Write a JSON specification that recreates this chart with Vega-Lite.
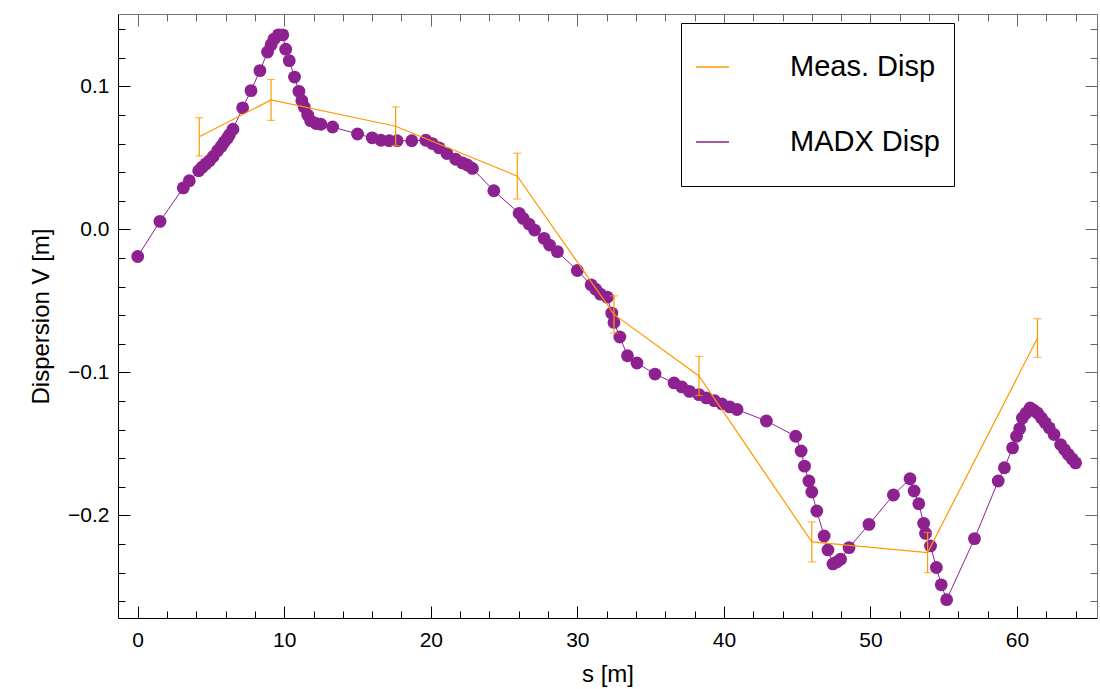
{
  "$schema": "https://vega.github.io/schema/vega-lite/v6.json",
  "autosize": {"type": "none"},
  "padding": {"left": 118, "top": 14, "right": 3, "bottom": 71},
  "width": 979,
  "height": 604,
  "background": "white",
  "config": {
    "view": {"stroke": null},
    "font": "Liberation Sans",
    "axis": {"labelFont": "Liberation Sans", "titleFont": "Liberation Sans", "labelColor": "black", "titleColor": "black", "grid": false, "titleFontWeight": "normal", "labelFontSize": 21, "titleFontSize": 24}
  },
  "datasets": {
    "madx": [
      {"s": 0.0, "v": -0.019}, {"s": 1.52, "v": 0.0056}, {"s": 3.11, "v": 0.029}, {"s": 3.52, "v": 0.034},
      {"s": 4.16, "v": 0.041}, {"s": 4.4, "v": 0.0435}, {"s": 4.65, "v": 0.0458}, {"s": 4.9, "v": 0.048},
      {"s": 5.15, "v": 0.051}, {"s": 5.45, "v": 0.055}, {"s": 5.7, "v": 0.058}, {"s": 5.9, "v": 0.061},
      {"s": 6.1, "v": 0.0635}, {"s": 6.25, "v": 0.066}, {"s": 6.5, "v": 0.070}, {"s": 7.16, "v": 0.085},
      {"s": 7.73, "v": 0.097}, {"s": 8.34, "v": 0.111}, {"s": 8.86, "v": 0.124}, {"s": 9.1, "v": 0.129},
      {"s": 9.3, "v": 0.133}, {"s": 9.6, "v": 0.136}, {"s": 9.9, "v": 0.136}, {"s": 10.1, "v": 0.126},
      {"s": 10.34, "v": 0.118}, {"s": 10.7, "v": 0.1065}, {"s": 11.0, "v": 0.0965}, {"s": 11.2, "v": 0.090},
      {"s": 11.36, "v": 0.0856}, {"s": 11.6, "v": 0.080}, {"s": 11.8, "v": 0.076}, {"s": 12.16, "v": 0.074},
      {"s": 12.5, "v": 0.0735}, {"s": 13.3, "v": 0.0716}, {"s": 15.0, "v": 0.0667}, {"s": 16.0, "v": 0.064},
      {"s": 16.6, "v": 0.0623}, {"s": 17.16, "v": 0.062}, {"s": 17.7, "v": 0.062}, {"s": 18.7, "v": 0.062},
      {"s": 19.66, "v": 0.0623}, {"s": 20.1, "v": 0.060}, {"s": 20.57, "v": 0.057}, {"s": 21.1, "v": 0.053},
      {"s": 21.7, "v": 0.049}, {"s": 22.16, "v": 0.0465}, {"s": 22.5, "v": 0.045}, {"s": 22.84, "v": 0.0426},
      {"s": 24.3, "v": 0.027}, {"s": 26.03, "v": 0.0112}, {"s": 26.3, "v": 0.0077}, {"s": 26.7, "v": 0.0037},
      {"s": 27.08, "v": -0.0005}, {"s": 27.73, "v": -0.0063}, {"s": 28.1, "v": -0.011}, {"s": 28.64, "v": -0.0156},
      {"s": 30.0, "v": -0.0288}, {"s": 30.94, "v": -0.0388}, {"s": 31.25, "v": -0.0419}, {"s": 31.57, "v": -0.0453},
      {"s": 32.04, "v": -0.0474}, {"s": 32.35, "v": -0.0586}, {"s": 32.5, "v": -0.0651}, {"s": 32.9, "v": -0.0753},
      {"s": 33.42, "v": -0.0884}, {"s": 34.07, "v": -0.0935}, {"s": 35.3, "v": -0.1012}, {"s": 36.6, "v": -0.1074},
      {"s": 37.13, "v": -0.1102}, {"s": 37.65, "v": -0.1133}, {"s": 38.3, "v": -0.1156}, {"s": 38.8, "v": -0.1179},
      {"s": 39.35, "v": -0.1198}, {"s": 39.87, "v": -0.1221}, {"s": 40.4, "v": -0.1242}, {"s": 40.9, "v": -0.126},
      {"s": 42.9, "v": -0.134}, {"s": 44.9, "v": -0.1447}, {"s": 45.27, "v": -0.155}, {"s": 45.5, "v": -0.1656},
      {"s": 45.8, "v": -0.176}, {"s": 46.0, "v": -0.1837}, {"s": 46.34, "v": -0.197}, {"s": 46.84, "v": -0.2144},
      {"s": 47.1, "v": -0.2242}, {"s": 47.44, "v": -0.234}, {"s": 47.7, "v": -0.2326}, {"s": 47.96, "v": -0.2307},
      {"s": 48.54, "v": -0.2226}, {"s": 49.9, "v": -0.2063}, {"s": 51.57, "v": -0.1858}, {"s": 52.7, "v": -0.1744},
      {"s": 52.98, "v": -0.183}, {"s": 53.3, "v": -0.1919}, {"s": 53.63, "v": -0.2056}, {"s": 53.76, "v": -0.2126},
      {"s": 54.1, "v": -0.2214}, {"s": 54.5, "v": -0.2365}, {"s": 54.83, "v": -0.2486}, {"s": 55.2, "v": -0.259},
      {"s": 57.1, "v": -0.2163}, {"s": 58.72, "v": -0.176}, {"s": 59.14, "v": -0.1667}, {"s": 59.7, "v": -0.1528},
      {"s": 59.97, "v": -0.1447}, {"s": 60.18, "v": -0.1395}, {"s": 60.37, "v": -0.1319}, {"s": 60.63, "v": -0.1284},
      {"s": 60.9, "v": -0.1249}, {"s": 61.14, "v": -0.1265}, {"s": 61.4, "v": -0.1284}, {"s": 61.67, "v": -0.1319},
      {"s": 61.93, "v": -0.1353}, {"s": 62.2, "v": -0.1388}, {"s": 62.53, "v": -0.1435}, {"s": 62.98, "v": -0.1505},
      {"s": 63.24, "v": -0.154}, {"s": 63.5, "v": -0.1574}, {"s": 63.76, "v": -0.1605}, {"s": 64.0, "v": -0.1633}
    ],
    "meas": [
      {"s": 4.2, "v": 0.0647, "err": 0.0134},
      {"s": 9.1, "v": 0.0905, "err": 0.0143},
      {"s": 17.6, "v": 0.0721, "err": 0.0135},
      {"s": 25.9, "v": 0.0372, "err": 0.016},
      {"s": 32.5, "v": -0.0595, "err": 0.013},
      {"s": 38.3, "v": -0.1025, "err": 0.0137},
      {"s": 46.0, "v": -0.2186, "err": 0.014},
      {"s": 53.9, "v": -0.226, "err": 0.014},
      {"s": 61.4, "v": -0.076, "err": 0.0135}
    ]
  },
  "resolve": {"axis": {"x": "independent", "y": "independent"}},
  "layer": [
    {
      "data": {"name": "madx"},
      "mark": {"type": "line", "strokeWidth": 1},
      "encoding": {
        "x": {"field": "s", "type": "quantitative", "scale": {"domain": [-1.345, 65.46], "nice": false, "zero": false},
          "axis": {"orient": "bottom", "title": "s [m]", "values": [0, 10, 20, 30, 40, 50, 60], "format": "d", "tickSize": -12, "tickColor": "black", "domainColor": "black", "labelPadding": 23, "titlePadding": 12}},
        "y": {"field": "v", "type": "quantitative", "scale": {"domain": [-0.2718, 0.1506], "nice": false, "zero": false},
          "axis": {"orient": "left", "title": "Dispersion V [m]", "values": [-0.2, -0.1, 0, 0.1], "format": ".1f", "tickSize": -12, "tickColor": "black", "domainColor": "black", "labelPadding": 21, "titlePadding": 14}},
        "color": {"datum": "MADX Disp", "type": "nominal",
          "scale": {"domain": ["Meas. Disp", "MADX Disp"], "range": ["#FF9900", "#8E2190"]},
          "legend": {"title": null, "orient": "none", "legendX": 563, "legendY": 9, "symbolType": "stroke", "symbolSize": 1089, "symbolStrokeWidth": 1.5, "labelFontSize": 29, "labelFont": "Liberation Sans", "labelColor": "black", "labelOffset": 60, "labelLimit": 400, "clipHeight": 60, "rowPadding": 15, "padding": 14, "strokeColor": "black", "fillColor": "white"}}
      }
    },
    {
      "data": {"name": "madx"},
      "mark": {"type": "circle", "size": 165, "opacity": 1, "color": "#8E2190"},
      "encoding": {
        "x": {"field": "s", "type": "quantitative", "axis": {"orient": "bottom", "title": null, "labels": false, "domain": false, "values": [0, 2, 4, 6, 8, 12, 14, 16, 18, 22, 24, 26, 28, 32, 34, 36, 38, 42, 44, 46, 48, 52, 54, 56, 58, 62, 64], "tickSize": -7, "tickColor": "black"}},
        "y": {"field": "v", "type": "quantitative", "axis": {"orient": "left", "title": null, "labels": false, "domain": false, "values": [-0.26, -0.24, -0.22, -0.18, -0.16, -0.14, -0.12, -0.08, -0.06, -0.04, -0.02, 0.02, 0.04, 0.06, 0.08, 0.12, 0.14], "tickSize": -7, "tickColor": "black"}}
      }
    },
    {
      "data": {"name": "meas"},
      "mark": {"type": "line", "strokeWidth": 1.2},
      "encoding": {
        "x": {"field": "s", "type": "quantitative", "axis": {"orient": "top", "title": null, "labels": false, "values": [0, 10, 20, 30, 40, 50, 60], "tickSize": -12, "tickColor": "#666", "domainColor": "#777"}},
        "y": {"field": "v", "type": "quantitative", "axis": {"orient": "right", "title": null, "labels": false, "values": [-0.2, -0.1, 0, 0.1], "tickSize": -12, "tickColor": "#666", "domainColor": "#777"}},
        "color": {"datum": "Meas. Disp", "type": "nominal"}
      }
    },
    {
      "data": {"name": "meas"},
      "mark": {"type": "errorbar", "ticks": {"size": 8, "thickness": 1.2}, "color": "#FF9900", "thickness": 1.2},
      "encoding": {
        "x": {"field": "s", "type": "quantitative", "axis": {"orient": "top", "title": null, "labels": false, "domain": false, "values": [0, 2, 4, 6, 8, 12, 14, 16, 18, 22, 24, 26, 28, 32, 34, 36, 38, 42, 44, 46, 48, 52, 54, 56, 58, 62, 64], "tickSize": -7, "tickColor": "#666"}},
        "y": {"field": "v", "type": "quantitative", "axis": {"orient": "right", "title": null, "labels": false, "domain": false, "values": [-0.26, -0.24, -0.22, -0.18, -0.16, -0.14, -0.12, -0.08, -0.06, -0.04, -0.02, 0.02, 0.04, 0.06, 0.08, 0.12, 0.14], "tickSize": -7, "tickColor": "#666"}},
        "yError": {"field": "err"}
      }
    },
    {
      "mark": {"type": "rule", "color": "black", "strokeWidth": 1},
      "encoding": {"y": {"datum": 0, "type": "quantitative", "axis": null}}
    }
  ]
}
